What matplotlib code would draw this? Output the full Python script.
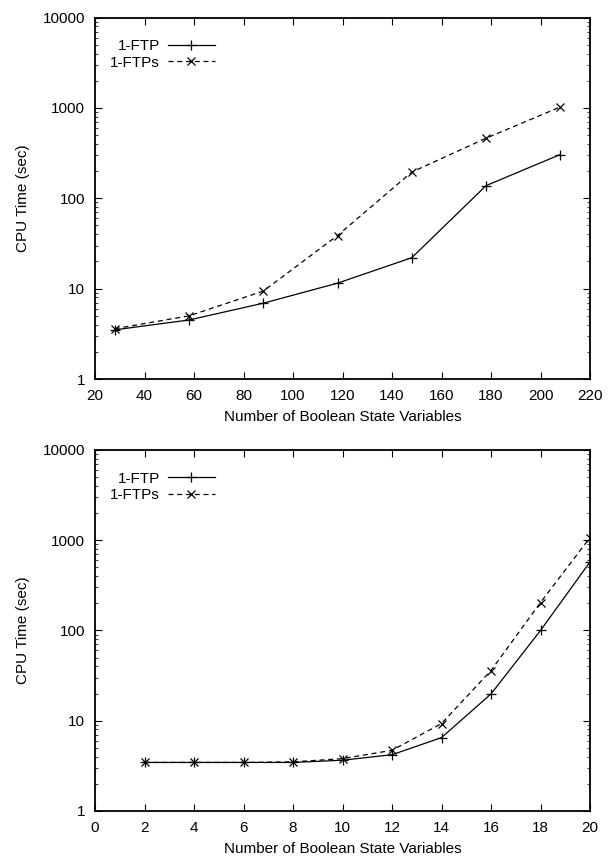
import matplotlib.pyplot as plt
from matplotlib.ticker import LogLocator, NullFormatter, FixedLocator

plt.rcParams['font.family'] = ['Liberation Sans', 'DejaVu Sans']
plt.rcParams['font.size'] = 11

# Haut : nombre de variables booleennes
x_haut = [28, 58, 88, 118, 148, 178, 208]
ftp_haut = [3.5, 4.5, 6.9, 11.5, 22, 138, 305]
ftps_haut = [3.6, 5.0, 9.4, 38.7, 195, 462, 1025]

# Bas
x_bas = [2, 4, 6, 8, 10, 12, 14, 16, 18, 20]
ftp_bas = [3.45, 3.45, 3.45, 3.45, 3.65, 4.2, 6.5, 19.8, 100, 575]
ftps_bas = [3.45, 3.45, 3.45, 3.5, 3.8, 4.7, 9.3, 36, 204, 1070]

y_ticks = [1, 10, 100, 1000, 10000]


def trace(ax, x, ftp, ftps, xlim, xticks):
    ax.plot(x, ftp, color='black', lw=0.9, marker='+', ms=7, mew=0.9, label='1-FTP')
    ax.plot(x, ftps, color='black', lw=0.9, ls=(0, (4, 3)), marker='x', ms=6, mew=0.9,
            label='1-FTPs')
    ax.set_yscale('log')
    ax.set_ylim(1, 10000)
    ax.set_xlim(*xlim)
    ax.xaxis.set_major_locator(FixedLocator(xticks))
    ax.yaxis.set_major_locator(FixedLocator(y_ticks))
    ax.yaxis.set_major_formatter(plt.FuncFormatter(lambda v, p: f"{int(round(v))}"))
    ax.yaxis.set_minor_locator(LogLocator(base=10, subs=range(2, 10)))
    ax.yaxis.set_minor_formatter(NullFormatter())
    ax.tick_params(which='both', direction='in', top=True, right=True, width=0.8)
    ax.tick_params(which='major', length=5, pad=7)
    ax.tick_params(which='minor', length=2.5, color='#444444')
    for s in ax.spines.values():
        s.set_linewidth(1.3)
    ax.set_xlabel("Number of Boolean State Variables", labelpad=5)
    ax.set_ylabel("CPU Time (sec)", labelpad=9)
    ax.legend(loc='upper right', bbox_to_anchor=(0.2424, 0.94), frameon=False,
              markerfirst=False, handlelength=3.1, handletextpad=0.5,
              labelspacing=0.15, borderaxespad=0, borderpad=0)


fig = plt.figure(figsize=(6.13, 8.6), dpi=100)
ax1 = fig.add_axes([0.155, 0.5593, 0.8075, 0.4203])
ax2 = fig.add_axes([0.155, 0.057, 0.8075, 0.4198])

trace(ax1, x_haut, ftp_haut, ftps_haut, (20, 220), list(range(20, 221, 20)))
trace(ax2, x_bas, ftp_bas, ftps_bas, (0, 20), list(range(0, 21, 2)))

fig.savefig("out.png", dpi=100)
